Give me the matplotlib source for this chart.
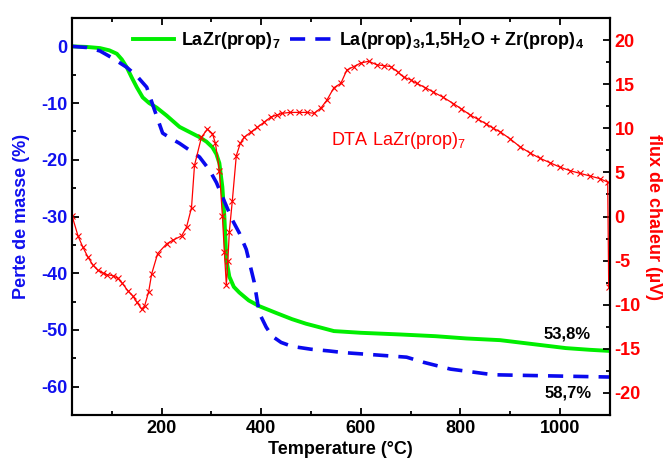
import matplotlib
matplotlib.use('Agg')
import matplotlib.pyplot as plt
from matplotlib.ticker import MultipleLocator

plt.rcParams['font.family'] = ['Liberation Sans', 'DejaVu Sans']
plt.rcParams['mathtext.fontset'] = 'custom'
plt.rcParams['mathtext.rm'] = 'Liberation Sans'
plt.rcParams['mathtext.it'] = 'Liberation Sans'
plt.rcParams['mathtext.bf'] = 'Liberation Sans:bold'
plt.rcParams['axes.unicode_minus'] = False

# --- data ---
# TGA LaZr(prop)7 (green)
temp_green = [20, 50, 76, 95, 110, 120, 130, 140, 150, 162, 175, 190, 210, 236, 256, 276, 290, 302,
              310, 316, 322, 326, 330, 336, 345, 356, 375, 396, 430, 462, 490, 516, 546, 600, 680,
              750, 812, 880, 946, 1012, 1060, 1100]
mass_green = [0.0, -0.1, -0.3, -0.7, -1.3, -2.3, -3.7, -5.5, -7.2, -9.0, -10.0, -10.8, -12.2, -14.2,
              -15.1, -16.0, -16.8, -17.8, -19.0, -20.6, -24.8, -30.0, -37.6, -40.6, -42.4, -43.4,
              -44.8, -45.8, -47.0, -48.1, -48.9, -49.5, -50.2, -50.5, -50.8, -51.1, -51.5, -51.8,
              -52.5, -53.2, -53.5, -53.7]

# TGA La(prop)3,1.5H2O + Zr(prop)4 (blue dashed)
temp_blue = [20, 50, 76, 100, 130, 150, 170, 186, 202, 220, 236, 256, 276, 296, 310, 322, 342, 356,
             370, 386, 396, 410, 422, 440, 462, 500, 536, 566, 630, 692, 726, 780, 866, 980, 1100]
mass_blue = [0.0, -0.2, -0.8, -2.0, -3.7, -5.2, -7.2, -11.3, -15.3, -16.3, -17.1, -18.3, -19.5,
             -21.8, -24.0, -26.5, -30.6, -32.9, -35.8, -41.6, -47.0, -49.5, -51.1, -52.2, -52.9,
             -53.4, -53.7, -54.0, -54.4, -54.8, -55.7, -56.9, -57.9, -58.1, -58.3]

# DTA LaZr(prop)7 (red, right axis)
temp_dta = [20, 32, 42, 52, 62, 72, 82, 90, 102, 112, 120, 132, 142, 150, 160, 166, 174, 180, 192,
            210, 222, 240, 250, 260, 266, 280, 292, 302, 308, 316, 322, 326, 330, 333, 336, 342,
            350, 358, 366, 380, 392, 406, 420, 432, 442, 458, 476, 492, 506, 520, 532, 546, 560,
            572, 586, 600, 616, 632, 646, 660, 674, 686, 700, 712, 730, 746, 766, 786, 802, 820,
            836, 852, 866, 880, 900, 920, 940, 960, 980, 1000, 1020, 1040, 1060, 1080, 1096, 1098]
dta = [0.1, -2.2, -3.5, -4.6, -5.5, -6.1, -6.4, -6.6, -6.7, -7.0, -7.5, -8.4, -9.0, -9.7, -10.5,
       -10.1, -8.5, -6.5, -4.2, -3.1, -2.7, -2.2, -1.2, 1.0, 5.8, 9.0, 9.9, 9.4, 8.3, 5.2, 0.1, -4.0,
       -7.8, -5.0, -1.7, 1.8, 6.9, 8.3, 9.0, 9.6, 10.1, 10.7, 11.3, 11.5, 11.7, 11.8, 11.8, 11.8,
       11.7, 12.3, 13.2, 14.6, 15.1, 16.6, 17.0, 17.4, 17.6, 17.2, 17.1, 17.0, 16.4, 15.8, 15.5,
       15.1, 14.6, 14.1, 13.5, 12.8, 12.2, 11.5, 11.0, 10.5, 10.0, 9.6, 8.8, 7.9, 7.2, 6.6, 6.1,
       5.6, 5.2, 4.9, 4.6, 4.3, 3.9, -8.0]

x_ticks = [200, 400, 600, 800, 1000]
mass_ticks = [0, -10, -20, -30, -40, -50, -60]
dta_ticks = [20, 15, 10, 5, 0, -5, -10, -15, -20]

fig = plt.figure(figsize=(6.7, 4.68), dpi=100)
ax = fig.add_axes([0.1075, 0.1132, 0.8025, 0.8483])
ax2 = ax.twinx()

ax.plot(temp_green, mass_green, color='#00ee00', linewidth=2.8, label='LaZr(prop)$_\\mathbf{7}$', zorder=3)
ax.plot(temp_blue, mass_blue, color='#0a0aee', linewidth=2.6, dashes=(4.2, 2.8),
        label='La(prop)$_\\mathbf{3}$,1,5H$_\\mathbf{2}$O + Zr(prop)$_\\mathbf{4}$', zorder=3)
ax2.plot(temp_dta, dta, color='red', linewidth=0.9, marker='x', markersize=4,
         markeredgewidth=0.8)

ax.set_xlim(20, 1100)
ax.set_ylim(-65, 5)
ax2.set_ylim(-22.5, 22.5)

ax.set_xticks(x_ticks)
ax.xaxis.set_minor_locator(MultipleLocator(100))
ax.set_yticks(mass_ticks)
ax.yaxis.set_minor_locator(MultipleLocator(5))
ax2.set_yticks(dta_ticks)
ax2.yaxis.set_minor_locator(MultipleLocator(2.5))

ax.tick_params(axis='both', which='both', direction='in', top=True, width=1.3)
ax.tick_params(which='major', length=5, labelsize=13)
ax.tick_params(which='minor', length=3)
ax.tick_params(axis='y', colors='black', labelcolor='#1010ee')
ax2.tick_params(axis='y', which='both', direction='in', width=1.3, labelcolor='red', labelsize=13)
ax2.tick_params(which='major', length=5)
ax2.tick_params(which='minor', length=3)
for lab in ax.get_xticklabels() + ax.get_yticklabels() + ax2.get_yticklabels():
    lab.set_fontweight('bold')

for sp in list(ax.spines.values()) + list(ax2.spines.values()):
    sp.set_linewidth(1.5)

ax.set_xlabel('Temperature (°C)', fontsize=13, fontweight='bold', labelpad=3)
ax.set_ylabel('Perte de masse (%)', fontsize=13, fontweight='bold', color='#1010ee', labelpad=8)
ax2.set_ylabel('flux de chaleur (µV)', fontsize=13, fontweight='bold', color='red',
               rotation=270, labelpad=15)

ax2.text(540, 8.6, 'DTA LaZr(prop)$_7$', color='red', fontsize=13, va='center', ha='left')
ax.text(1062, -50.8, '53,8%', fontsize=12, fontweight='bold', ha='right', va='center')
ax.text(1064, -61.2, '58,7%', fontsize=12, fontweight='bold', ha='right', va='center')

leg = ax.legend(loc='upper center', bbox_to_anchor=(0.532, 1.01), ncol=2, frameon=False,
                handlelength=2.3, columnspacing=0.5, handletextpad=0.4,
                prop={'weight': 'bold', 'size': 13})

fig.savefig('out.png', dpi=100)
